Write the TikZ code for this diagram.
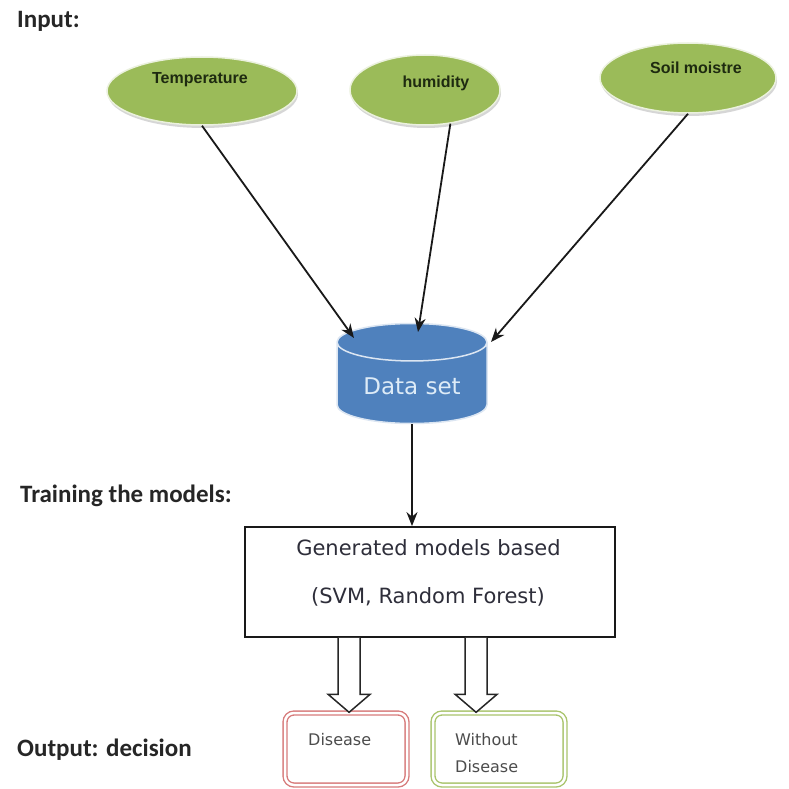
\documentclass[tikz,border=0pt]{standalone}
\usepackage{fontspec}
\setmainfont{Carlito}
\newfontfamily\boxfont{DejaVu Sans}
\newfontfamily\ovalfont{Liberation Sans}
\usetikzlibrary{shapes.geometric,arrows.meta,calc,shadows}
\definecolor{leafgreen}{HTML}{9BBB59}
\definecolor{leafrim}{HTML}{EBF1DE}
\definecolor{dbblue}{HTML}{4F81BD}
\definecolor{dbrim}{HTML}{DCE6F2}
\definecolor{dbtext}{HTML}{DDEBF7}
\definecolor{redline}{HTML}{D77B7B}
\definecolor{greenline}{HTML}{A9C46C}
\definecolor{boxtext}{HTML}{2E2E3A}
\definecolor{ovaltxt}{HTML}{1E2A10}

\newcommand\hollowarrow[2]{%
  \draw[hollow] ($(#1)+(-11,0)$) -- ($(#2)+(-11,-18)$) -- ($(#2)+(-21,-18)$)
    -- (#2) -- ($(#2)+(21,-18)$) -- ($(#2)+(11,-18)$) -- ($(#1)+(11,0)$);}

\begin{document}
\begin{tikzpicture}[x=1pt,y=-1pt,
  oval/.style={ellipse, fill=leafgreen, draw=leafrim, line width=1.5pt, inner sep=0pt,
    drop shadow={shadow xshift=1pt, shadow yshift=-3pt, fill=black!35, opacity=.45}},
  ovaltext/.style={font=\ovalfont\bfseries\fontsize{16}{18}\selectfont, text=ovaltxt},
  heading/.style={font=\bfseries\fontsize{25}{28}\selectfont, text=black!85, anchor=base west, inner sep=0pt},
  feed/.style={draw=black!90, line width=1.8pt, -{Stealth[length=14pt,width=11pt]}},
  outcome/.style={rectangle, rounded corners=9pt, line width=1.4pt, double=white,
    double distance=2.5pt, minimum height=72, inner sep=0pt},
  hollow/.style={draw=black!85, line width=1.5pt, fill=white},
  smalltext/.style={font=\boxfont\fontsize{16}{27}\selectfont, text=black!70, align=left, inner sep=0pt},
  modeltext/.style={font=\boxfont\fontsize{21}{24}\selectfont, text=boxtext, inner sep=0pt}
]
\useasboundingbox (0,0) rectangle (788,789);
\fill[white] (0,0) rectangle (788,789);

% section headings
\node[heading] (hin)  at (17,28)  {Input:};
\node[heading] (htr)  at (20,502) {Training the models:};
\node[heading] (hout) at (17,756) {Output: decision};

% input sensors
\node[oval, minimum width=190, minimum height=68] (temp) at (202,91)
  {}; \node[ovaltext] (ttemp) at (200,80) {Temperature};
\node[oval, minimum width=150, minimum height=70] (hum) at (425,90)
  {}; \node[ovaltext] (thum) at (436,83) {humidity};
\node[oval, minimum width=176, minimum height=70] (soil) at (688,78)
  {}; \node[ovaltext] (tsoil) at (696,68) {Soil moistre};

% data store
\node[cylinder, shape border rotate=90, aspect=0.36, minimum width=150, minimum height=100,
  draw=dbrim, line width=1.5pt, fill=dbblue, cylinder uses custom fill,
  cylinder body fill=dbblue, cylinder end fill=dbblue,
  font=\boxfont\fontsize{23}{26}\selectfont, text=dbtext] (data) at (412,386) {Data set};

\coordinate (tempin) at (354,338);
\coordinate (humin)  at (418,332);
\coordinate (soilin) at (491,342);
\draw[feed] (temp.south) -- (tempin);
\draw[feed] (hum.-53) -- (humin);
\draw[feed] (soil.south) -- (soilin);

% model box
\node[draw=black!90, line width=1.8pt, fill=white, minimum width=370, minimum height=110,
  inner sep=0pt] (gen) at (430,582) {};
\node[modeltext] (g1) at (428.5,548) {Generated models based};
\node[modeltext] (g2) at (428,597) {(SVM, Random Forest)};
\draw[feed] (data.south) -- (gen.north -| data.south);

% decisions
\node[outcome, draw=redline, minimum width=122] (dis) at (346,749) {};
\node[outcome, draw=greenline, minimum width=132] (wod) at (499,749) {};
\node[smalltext, anchor=west] (tdis) at (308,740) {Disease};
\node[smalltext, anchor=west] (twod) at (455,753.5) {Without\\Disease};

\coordinate (lfoot) at ($(gen.south west)+(105,0)$);
\coordinate (rfoot) at ($(gen.south west)+(232,0)$);
\coordinate (ltip) at (dis.north -| lfoot);
\coordinate (rtip) at (wod.north -| rfoot);
\hollowarrow{lfoot}{ltip}
\hollowarrow{rfoot}{rtip}
\end{tikzpicture}
\end{document}
